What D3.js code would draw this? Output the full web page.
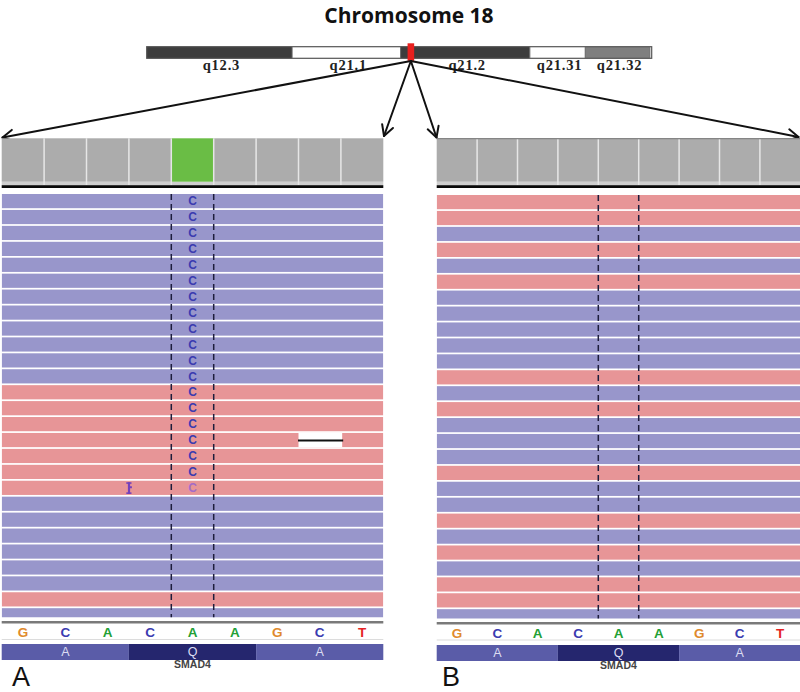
<!DOCTYPE html>
<html><head><meta charset="utf-8">
<script src="https://cdn.jsdelivr.net/npm/d3@7"></script>
<style>body{margin:0;background:#fff}svg{display:block}</style>
</head><body>
<svg id="c" width="800" height="692"></svg>
<script>
// ---------------- data ----------------
const title = "Chromosome 18";
const bandNames  = ["q12.3", "q21.1", "q21.2", "q21.31", "q21.32", "q21.33"];
const bandStarts = [37.2, 43.5, 48.2, 53.8, 56.2, 59.0];   // Mb (hg19)
const bandEnds   = [43.5, 48.2, 53.8, 56.2, 59.0, 61.6];
const bandStains = ["gpos75", "gneg", "gpos75", "gneg", "gpos50", "gneg"];
const viewRange  = [37.2, 59.08];
const geneName = "SMAD4";
const genePos  = 48.585;   // Mb

const refSeq   = ["G", "C", "A", "C", "A", "A", "G", "C", "T"];
const aaNames  = ["A", "Q", "A"];
const aaStarts = [0, 3, 6];
const aaEnds   = [3, 6, 9];

const coverageA = [27, 27, 27, 27, 27, 27, 27, 27, 27];
const coverageB = [27, 27, 27, 27, 27, 27, 27, 27, 27];
const mismatchColA = 4;          // coloured coverage column in A
const variantPos = 4;            // dashed-line column

// read strands, one per row ("+" forward / "-" reverse)
const strandsA = ["-","-","-","-","-","-","-","-","-","-","-","-",
                  "+","+","+","+","+","+","+",
                  "-","-","-","-","-","-","+","-"];
const strandsB = ["+","+","-","+","-","+","-","-","-","-","-","+","-",
                  "+","-","-","-","+","-","-","+","-","+","-","+","+","-"];
// mismatch base shown in each read of A at variantPos (null = matches reference)
const altA = ["C","C","C","C","C","C","C","C","C","C","C","C",
              "C","C","C","C","C","C","C",
              null,null,null,null,null,null,null,null];
const lowQualA = [18];             // rows whose mismatch is low quality
const deletionRowsA = [15];
const deletionStartsA = [7.0];
const deletionEndsA = [8.03];
const insertionRowsA = [18];
const insertionPosA = [3];

// ---------------- drawing ----------------
const svg = d3.select("#c");
const C = {
  pos: "#e79597", neg: "#9896cb", cov: "#acacac", covSnp: "#6abd45",
  dark: "#3d3d3d", mid: "#7f7f7f",
  base: {G: "#e08a2c", C: "#3b3bb0", A: "#22a036", T: "#e52222"},
  aaLight: "#5a5ca8", aaDark: "#25266e"
};

// title
svg.append("text").attr("x", 409).attr("y", 23)
  .attr("text-anchor", "middle")
  .style("font-family", "'Open Sans', sans-serif").style("font-weight", 700)
  .style("font-size", "21px").attr("fill", "#111").text(title);

// ideogram
const xc = d3.scaleLinear().domain(viewRange).range([146.7, 651.7]);
const stainFill = {gpos75: C.dark, gneg: "#ffffff", gpos50: C.mid};
const ideoTop = 46.7, ideoH = 11.6;
const bands = bandNames.map((n, i) => ({name: n, s: bandStarts[i], e: Math.min(bandEnds[i], viewRange[1]), stain: bandStains[i]}));
const gl = svg.append("g");
gl.selectAll("text").data(bands.filter(b => b.e - b.s > 1)).join("text")
  .attr("x", d => (xc(d.s) + xc(d.e)) / 2 + 2).attr("y", 70)
  .attr("text-anchor", "middle")
  .style("font-family", "'Liberation Serif', serif").style("font-weight", 700)
  .style("font-size", "14.5px").style("letter-spacing", "0.8px")
  .attr("fill", "#222").text(d => d.name);
const gi = svg.append("g");
gi.selectAll("rect").data(bands).join("rect")
  .attr("x", d => xc(d.s)).attr("width", d => xc(d.e) - xc(d.s))
  .attr("y", ideoTop).attr("height", ideoH)
  .attr("fill", d => stainFill[d.stain]);
gi.append("rect").attr("x", xc(viewRange[0])).attr("y", ideoTop)
  .attr("width", xc(viewRange[1]) - xc(viewRange[0])).attr("height", ideoH)
  .attr("fill", "none").attr("stroke", "#555").attr("stroke-width", 1.2);
gi.selectAll("line.sep").data(bands.slice(1)).join("line").attr("class", "sep")
  .attr("x1", d => xc(d.s)).attr("x2", d => xc(d.s))
  .attr("y1", ideoTop).attr("y2", ideoTop + ideoH)
  .attr("stroke", "#666").attr("stroke-width", 1);
const gx = xc(genePos) + 1.4;
gi.append("rect").attr("x", gx - 3.3).attr("y", 43.3).attr("width", 6.6).attr("height", 17.5)
  .attr("fill", "#e8201e");

// panels
const panels = [
  {x0: 1.7, x1: 383.3, top: 194, bottom: 617.2, strands: strandsA, cov: coverageA, snp: mismatchColA,
   alt: altA, label: "A", labelX: 12, grayTop: false, aaBar: [644, 660]},
  {x0: 436.7, x1: 800.3, top: 195, bottom: 618.5, strands: strandsB, cov: coverageB, snp: -1,
   alt: null, label: "B", labelX: 442, grayTop: true, aaBar: [645, 661]}
];
const pitch = 15.93, readH = 14.2;

// arrows
const origin = [gx, 61];
const tips = [[2.5, 137.5], [384, 136], [436.5, 137.5], [798.5, 137]];
const ga = svg.append("g").attr("stroke", "#111").attr("stroke-width", 2).attr("fill", "none")
  .attr("stroke-linecap", "round").attr("stroke-linejoin", "round");
tips.forEach(t => {
  const ang = Math.atan2(t[1] - origin[1], t[0] - origin[0]);
  const L = 12, a = 0.5;
  const p1 = [t[0] - L * Math.cos(ang - a), t[1] - L * Math.sin(ang - a)];
  const p2 = [t[0] - L * Math.cos(ang + a), t[1] - L * Math.sin(ang + a)];
  ga.append("path").attr("d", d3.line()([origin, t]));
  ga.append("path").attr("d", d3.line()([p1, t, p2]));
});

panels.forEach((P, pi) => {
  const x = d3.scaleLinear().domain([0, refSeq.length]).range([P.x0, P.x1]);
  const bw = x(1) - x(0);
  const g = svg.append("g");
  // coverage
  const yc = d3.scaleLinear().domain([0, d3.max(P.cov)]).range([181.7, 138.3]);
  g.append("rect").attr("x", P.x0).attr("y", 181.7).attr("width", P.x1 - P.x0).attr("height", 3.6).attr("fill", "#cfcfcf");
  g.selectAll("rect.cov").data(P.cov).join("rect").attr("class", "cov")
    .attr("x", (d, i) => x(i)).attr("width", bw)
    .attr("y", d => yc(d)).attr("height", d => yc(0) - yc(d))
    .attr("fill", (d, i) => i === P.snp ? C.covSnp : C.cov);
  g.selectAll("line.cs").data(d3.range(1, refSeq.length)).join("line").attr("class", "cs")
    .attr("x1", d => x(d)).attr("x2", d => x(d)).attr("y1", 138.3).attr("y2", 185)
    .attr("stroke", "#e6e6e6").attr("stroke-width", 1.5);
  if (P.grayTop) g.append("line").attr("x1", P.x0).attr("x2", P.x1).attr("y1", 138.6).attr("y2", 138.6)
    .attr("stroke", "#858585").attr("stroke-width", 1.4);
  g.append("rect").attr("x", P.x0).attr("y", 185.2).attr("width", P.x1 - P.x0).attr("height", 2.8).attr("fill", "#0a0a0a");

  // reads
  const clipId = "clip" + pi;
  svg.append("clipPath").attr("id", clipId).append("rect")
    .attr("x", P.x0).attr("y", P.top).attr("width", P.x1 - P.x0).attr("height", P.bottom - P.top);
  const gr = g.append("g").attr("clip-path", `url(#${clipId})`);
  const y = d3.scaleLinear().domain([0, 1]).range([P.top, P.top + pitch]);
  gr.selectAll("rect.read").data(P.strands).join("rect").attr("class", "read")
    .attr("x", P.x0).attr("width", P.x1 - P.x0)
    .attr("y", (d, i) => y(i)).attr("height", readH)
    .attr("fill", d => d === "+" ? C.pos : C.neg);

  if (P.alt) {
    // deletions
    deletionRowsA.forEach((r, k) => {
      gr.append("rect").attr("x", x(deletionStartsA[k])).attr("width", x(deletionEndsA[k]) - x(deletionStartsA[k]))
        .attr("y", y(r)).attr("height", readH).attr("fill", "#fff");
      gr.append("line").attr("x1", x(deletionStartsA[k]) - 0.5).attr("x2", x(deletionEndsA[k]) + 1)
        .attr("y1", y(r) + readH / 2 + 0.5).attr("y2", y(r) + readH / 2 + 0.5)
        .attr("stroke", "#111").attr("stroke-width", 2);
    });
    // insertions
    insertionRowsA.forEach((r, k) => {
      const ix = x(insertionPosA[k]);
      const gg = gr.append("g").attr("fill", "#7440bb");
      gg.append("rect").attr("x", ix - 1).attr("y", y(r) + 1.5).attr("width", 2.2).attr("height", readH - 2.5);
      gg.append("rect").attr("x", ix - 2.6).attr("y", y(r) + 1.5).attr("width", 5.2).attr("height", 1.6);
      gg.append("rect").attr("x", ix - 2.6).attr("y", y(r) + readH - 2.6).attr("width", 5.2).attr("height", 1.6);
      gg.append("rect").attr("x", ix).attr("y", y(r) + 5.5).attr("width", 3).attr("height", 2);
    });
    // mismatch letters
    gr.selectAll("text.mm").data(P.alt.map((b, i) => ({b, i})).filter(d => d.b)).join("text").attr("class", "mm")
      .attr("x", x(variantPos + 0.5)).attr("y", d => y(d.i) + readH / 2 + 4.2)
      .attr("text-anchor", "middle")
      .style("font-family", "'Liberation Sans', Arial, sans-serif").style("font-weight", 700).style("font-size", "12px")
      .attr("fill", d => lowQualA.includes(d.i) ? "#a46cc8" : C.base[d.b]).text(d => d.b);
  }
  // dashed variant lines
  g.selectAll("line.dash").data([variantPos, variantPos + 1]).join("line").attr("class", "dash")
    .attr("x1", d => x(d)).attr("x2", d => x(d)).attr("y1", P.top).attr("y2", P.bottom)
    .attr("stroke", "#1d1d3c").attr("stroke-width", 1.5).attr("stroke-dasharray", "6,4");

  // bottom tracks
  g.append("line").attr("x1", P.x0).attr("x2", P.x1).attr("y1", 622.2 + pi).attr("y2", 622.2 + pi)
    .attr("stroke", "#7a7a7a").attr("stroke-width", 2.4);
  g.append("line").attr("x1", P.x0).attr("x2", P.x1).attr("y1", 639.5 + pi * 0.5).attr("y2", 639.5 + pi * 0.5)
    .attr("stroke", "#dcdcdc").attr("stroke-width", 1.2);
  g.selectAll("text.seq").data(refSeq).join("text").attr("class", "seq")
    .attr("x", (d, i) => x(i + 0.5)).attr("y", 637 + pi)
    .attr("text-anchor", "middle")
    .style("font-family", "'Liberation Sans', Arial, sans-serif").style("font-weight", 700).style("font-size", "13.5px")
    .attr("fill", d => C.base[d]).text(d => d);
  const aa = aaNames.map((n, i) => ({n, s: aaStarts[i], e: aaEnds[i], i}));
  g.selectAll("rect.aa").data(aa).join("rect").attr("class", "aa")
    .attr("x", d => x(d.s)).attr("width", d => x(d.e) - x(d.s))
    .attr("y", P.aaBar[0]).attr("height", P.aaBar[1] - P.aaBar[0])
    .attr("fill", d => d.i % 2 ? C.aaDark : C.aaLight);
  g.selectAll("text.aa").data(aa).join("text").attr("class", "aa")
    .attr("x", d => x((d.s + d.e) / 2)).attr("y", P.aaBar[0] + 12)
    .attr("text-anchor", "middle")
    .style("font-family", "'Liberation Sans', Arial, sans-serif").style("font-size", "12.5px")
    .attr("fill", "#dcdcf2").text(d => d.n);
  g.append("text").attr("x", x(4.5)).attr("y", P.aaBar[1] + 8)
    .attr("text-anchor", "middle")
    .style("font-family", "'Liberation Sans', Arial, sans-serif").style("font-weight", 700).style("font-size", "10.5px")
    .attr("fill", "#444").text(geneName);
  g.append("text").attr("x", P.labelX).attr("y", 686)
    .style("font-family", "'Liberation Sans', Arial, sans-serif").style("font-size", "27px")
    .attr("fill", "#111").text(P.label);
});
</script>
</body></html>
